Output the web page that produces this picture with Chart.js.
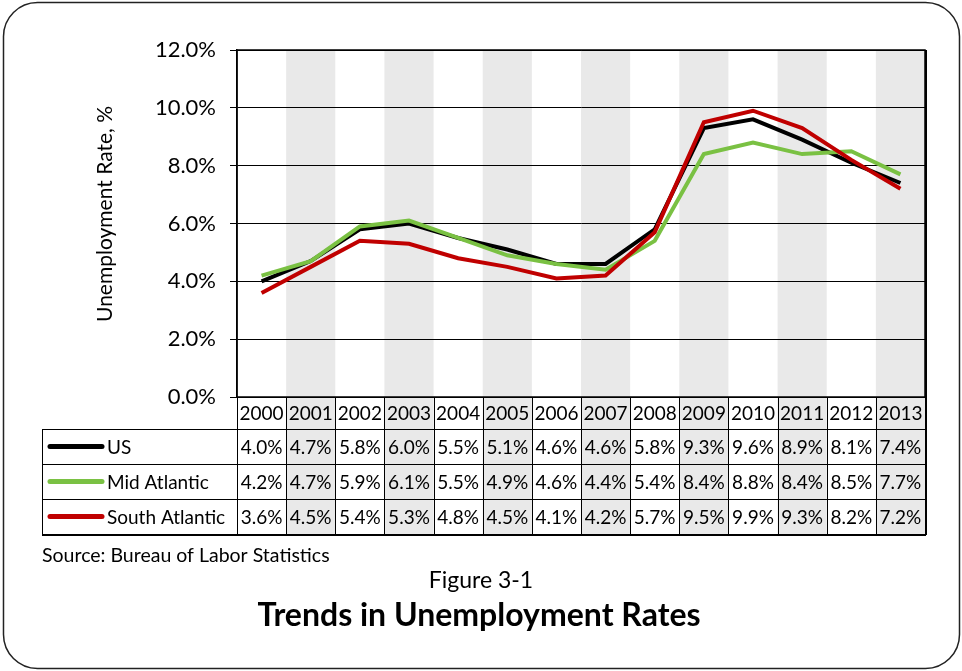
<!DOCTYPE html>
<html><head><meta charset="utf-8">
<script src="https://cdn.jsdelivr.net/npm/chart.js@4"></script>
<style>html,body{margin:0;padding:0;background:#fff}#wrap{width:962px;height:671px}</style>
</head><body><div id="wrap"><canvas id="c" width="962" height="671"></canvas></div>
<script>
const years = ['2000','2001','2002','2003','2004','2005','2006','2007','2008','2009','2010','2011','2012','2013'];
const usRates = [4.0,4.7,5.8,6.0,5.5,5.1,4.6,4.6,5.8,9.3,9.6,8.9,8.1,7.4];
const midAtlanticRates = [4.2,4.7,5.9,6.1,5.5,4.9,4.6,4.4,5.4,8.4,8.8,8.4,8.5,7.7];
const southAtlanticRates = [3.6,4.5,5.4,5.3,4.8,4.5,4.1,4.2,5.7,9.5,9.9,9.3,8.2,7.2];
const seriesNames = ['US','Mid Atlantic','South Atlantic'];
const seriesColors = ['#000000','#7ac143','#c00000'];
const yAxisTitle = 'Unemployment Rate, %';
const sourceText = 'Source: Bureau of Labor Statistics';
const figureLabel = 'Figure 3-1';
const chartTitle = 'Trends in Unemployment Rates';

const FONT = 'Lato, "Open Sans", sans-serif';
const seriesData = [usRates, midAtlanticRates, southAtlanticRates];
const HEADER_H = 32, ROW_H = 35, LEGEND_LEFT = 42;

const framePlugin = {
  id: 'frame',
  beforeDraw(chart) {
    const ctx = chart.ctx, a = chart.chartArea, xs = chart.scales.x;
    const w = (a.right - a.left) / years.length;
    const tableBottom = a.bottom + HEADER_H + ROW_H * seriesData.length;
    ctx.save();
    ctx.fillStyle = '#fff';
    ctx.fillRect(0, 0, chart.width, chart.height);
    ctx.fillStyle = '#e9e9e9';
    years.forEach((y, i) => {
      if (i % 2 === 1) {
        const cx = xs.getPixelForValue(i);
        ctx.fillRect(cx - w / 2, a.top, w, tableBottom - a.top);
      }
    });
    ctx.restore();
  },
  afterDraw(chart) {
    const ctx = chart.ctx, a = chart.chartArea, xs = chart.scales.x;
    const w = (a.right - a.left) / years.length;
    const rowsTop = a.bottom + HEADER_H;
    const tableBottom = rowsTop + ROW_H * seriesData.length;
    ctx.save();
    ctx.strokeStyle = '#000';
    ctx.lineWidth = 1.5;
    ctx.strokeRect(a.left, a.top, a.right - a.left, a.bottom - a.top);
    ctx.lineWidth = 1;
    ctx.beginPath();
    for (let i = 0; i <= years.length; i++) {
      const x = Math.round(a.left + i * w) + 0.5;
      ctx.moveTo(x, a.bottom); ctx.lineTo(x, tableBottom);
    }
    for (let r = 0; r <= seriesData.length; r++) {
      const y = rowsTop + r * ROW_H + 0.5;
      ctx.moveTo(LEGEND_LEFT, y); ctx.lineTo(a.right, y);
    }
    ctx.moveTo(LEGEND_LEFT + 0.5, rowsTop); ctx.lineTo(LEGEND_LEFT + 0.5, tableBottom);
    ctx.stroke();
    ctx.lineWidth = 2;
    ctx.beginPath();
    ctx.moveTo(LEGEND_LEFT, tableBottom + 1); ctx.lineTo(a.right + 1, tableBottom + 1);
    ctx.moveTo(a.right + 1, a.top); ctx.lineTo(a.right + 1, tableBottom + 1);
    ctx.stroke();
    ctx.fillStyle = '#000';
    ctx.font = '19px ' + FONT;
    ctx.textAlign = 'center';
    ctx.textBaseline = 'middle';
    years.forEach((y, i) => {
      ctx.fillText(y, xs.getPixelForValue(i), a.bottom + HEADER_H / 2 + 1);
    });
    seriesData.forEach((vals, r) => {
      const cy = rowsTop + r * ROW_H + ROW_H / 2 + 1;
      vals.forEach((v, i) => {
        ctx.fillText(v.toFixed(1) + '%', xs.getPixelForValue(i), cy);
      });
      ctx.strokeStyle = seriesColors[r];
      ctx.lineWidth = 5;
      ctx.lineCap = 'round';
      ctx.beginPath();
      ctx.moveTo(50, cy - 1); ctx.lineTo(102, cy - 1);
      ctx.stroke();
      ctx.textAlign = 'left';
      ctx.fillText(seriesNames[r], 107, cy);
      ctx.textAlign = 'center';
    });
    ctx.save();
    ctx.translate(105, 214);
    ctx.rotate(-Math.PI / 2);
    ctx.font = '21px ' + FONT;
    ctx.fillText(yAxisTitle, 0, 0);
    ctx.restore();
    ctx.textBaseline = 'alphabetic';
    ctx.textAlign = 'left';
    ctx.font = '19.5px ' + FONT;
    ctx.fillText(sourceText, 42, 562);
    ctx.textAlign = 'center';
    ctx.font = '23px ' + FONT;
    ctx.fillText(figureLabel, 481, 588);
    ctx.font = 'bold 32px ' + FONT;
    ctx.fillText(chartTitle, 479, 626);
    ctx.strokeStyle = '#222';
    ctx.lineWidth = 1.5;
    ctx.beginPath();
    ctx.roundRect(3.5, 2.5, 956, 666, 34);
    ctx.stroke();
    ctx.restore();
  }
};

new Chart(document.getElementById('c'), {
  type: 'line',
  data: {
    labels: years,
    datasets: seriesData.map((d, i) => ({
      label: seriesNames[i], data: d, borderColor: seriesColors[i],
      borderWidth: 4, pointRadius: 0, tension: 0, fill: false,
      order: seriesData.length - i
    }))
  },
  options: {
    responsive: false, animation: false, devicePixelRatio: 1,
    layout: { padding: { top: 50, right: 37, bottom: 274, left: 0 } },
    plugins: { legend: { display: false }, tooltip: { enabled: false }, title: { display: false } },
    scales: {
      x: { type: 'category', offset: true, display: false, grid: { display: false } },
      y: {
        min: 0, max: 12,
        afterFit(scale) { scale.width = 237; },
        border: { display: true, color: '#000', width: 1.5 },
        grid: { color: '#000', lineWidth: 1, tickLength: 7, drawTicks: true },
        ticks: { stepSize: 2, padding: 14, color: '#000', font: { family: FONT, size: 22 },
          callback: v => v.toFixed(1) + '%' }
      }
    }
  },
  plugins: [framePlugin]
});
</script></body></html>
